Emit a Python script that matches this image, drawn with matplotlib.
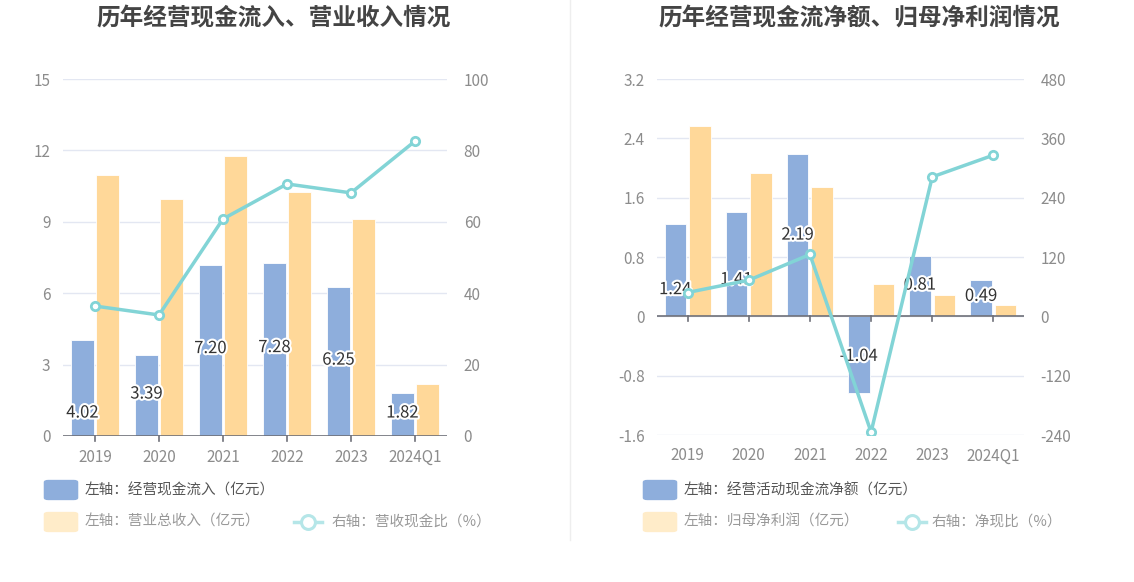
import matplotlib.pyplot as plt
import numpy as np
from matplotlib.patches import FancyBboxPatch
from matplotlib.lines import Line2D
import matplotlib.patheffects as pe

plt.rcParams['font.family'] = ['Noto Sans CJK SC', 'DejaVu Sans']

years = ['2019', '2020', '2021', '2022', '2023', '2024Q1']

# 左图
cash_in = [4.02, 3.39, 7.20, 7.28, 6.25, 1.82]
revenue = [10.97, 9.96, 11.76, 10.25, 9.12, 2.18]
cash_ratio = [36.4, 33.9, 60.8, 70.6, 68.1, 82.6]

# 右图
net_cash = [1.24, 1.41, 2.19, -1.04, 0.81, 0.49]
net_profit = [2.57, 1.93, 1.75, 0.44, 0.29, 0.15]
net_ratio = [48.2, 73.1, 125.1, -234.0, 282.0, 326.0]

# label height as fraction of bar value
label_frac_l = [0.24, 0.52, 0.51, 0.51, 0.51, 0.53]
label_frac_r = [0.29, 0.35, 0.5, 0.52, 0.52, 0.55]

BLUE = '#8eaedc'
ORANGE = '#ffd899'
TEAL = '#82d4d6'
GRID = '#e3e7f2'
TICK = '#8c8c8c'
AXIS = '#6e7079'

fig = plt.figure(figsize=(11.34, 5.82), dpi=100)


def draw(ax, bars1, bars2, line, ylim, yticks, y2lim, y2ticks, fracs, w, off):
    x = np.arange(len(years))
    ax.bar(x - off, bars1, w, color=BLUE, edgecolor='white', linewidth=0.6, zorder=2)
    ax.bar(x + off, bars2, w, color=ORANGE, edgecolor='white', linewidth=0.6, zorder=2)
    ax.set_xlim(-0.5, len(years) - 0.5)
    ax.set_ylim(*ylim)
    ax.set_yticks(yticks)
    ax.set_yticklabels([('%g' % t) for t in yticks])
    ax.grid(axis='y', color=GRID, linewidth=1, zorder=0)
    ax.axhline(0, color=AXIS, linewidth=1.2, zorder=3)
    for s in ax.spines.values():
        s.set_visible(False)
    ax.set_xticks(x)
    ax.set_xticklabels(years)
    ax.tick_params(axis='x', length=5, color=AXIS, colors=TICK, labelsize=11, pad=4)
    ax.tick_params(axis='y', length=0, colors=TICK, labelsize=11, pad=9)
    # 刻度线放在0处
    for t in ax.xaxis.get_major_ticks():
        t.tick1line.set_visible(False)
    for xi in x:
        ax.plot([xi, xi], [0, -(ylim[1] - ylim[0]) * 0.014], color=AXIS, lw=1.2,
                zorder=3, clip_on=False)
    for xi, v, f in zip(x, bars1, fracs):
        ax.text(xi - off, v * f, '%.2f' % v, ha='center', va='center', fontsize=12,
                color='#333333', zorder=6,
                path_effects=[pe.withStroke(linewidth=3, foreground='white')])
    ax2 = ax.twinx()
    ax2.plot(x, line, color=TEAL, lw=2.5, marker='o', markersize=6,
             markerfacecolor='white', markeredgecolor=TEAL, markeredgewidth=2, zorder=5)
    ax2.set_ylim(*y2lim)
    ax2.set_yticks(y2ticks)
    ax2.set_yticklabels([('%g' % t) for t in y2ticks])
    ax2.tick_params(axis='y', length=0, colors=TICK, labelsize=11, pad=12)
    for s in ax2.spines.values():
        s.set_visible(False)
    ax2.set_zorder(ax.get_zorder() + 1)
    ax2.patch.set_visible(False)
    return ax2


ax1 = fig.add_axes([63 / 1134, 1 - 436 / 582, 384 / 1134, 357 / 582])
draw(ax1, cash_in, revenue, cash_ratio, (0, 15), [0, 3, 6, 9, 12, 15],
     (0, 100), [0, 20, 40, 60, 80, 100], label_frac_l, 0.35, 0.195)

ax3 = fig.add_axes([657 / 1134, 1 - 435 / 582, 367 / 1134, 356 / 582])
draw(ax3, net_cash, net_profit, net_ratio, (-1.6, 3.2), [-1.6, -0.8, 0, 0.8, 1.6, 2.4, 3.2],
     (-240, 480), [-240, -120, 0, 120, 240, 360, 480], label_frac_r, 0.35, 0.2)

fig.text(274 / 1134, 1 - 18 / 582, '历年经营现金流入、营业收入情况', ha='center', va='center',
         fontsize=17, fontweight='bold', color='#444444')
fig.text(859 / 1134, 1 - 18 / 582, '历年经营现金流净额、归母净利润情况', ha='center', va='center',
         fontsize=17, fontweight='bold', color='#444444')

# 分隔线
fig.add_artist(Line2D([570 / 1134, 570 / 1134], [1 - 540 / 582, 1.0], color='#eeeeee', lw=1))


def legend_box(x, y, color):
    fig.add_artist(FancyBboxPatch((x / 1134, 1 - (y + 9) / 582), 30 / 1134, 18 / 582,
                                  boxstyle='round,pad=0.002,rounding_size=0.004',
                                  facecolor=color, edgecolor='none',
                                  transform=fig.transFigure))


def legend_line(x, y):
    yy = 1 - y / 582
    fig.add_artist(Line2D([x / 1134, (x + 28) / 1134], [yy, yy], color='#b5e6e8', lw=2.5))
    fig.add_artist(Line2D([(x + 14) / 1134], [yy], marker='o', markersize=10,
                          markerfacecolor='white', markeredgecolor='#b5e6e8',
                          markeredgewidth=2.2))


def legend_text(x, y, s, color):
    fig.text(x / 1134, 1 - y / 582, s, ha='left', va='center', fontsize=10.5, color=color)


legend_box(46, 490, BLUE)
legend_text(85, 490, '左轴：经营现金流入（亿元）', '#555555')
legend_box(46, 522, '#ffecc9')
legend_text(85, 522, '左轴：营业总收入（亿元）', '#999999')
legend_line(294, 522)
legend_text(332, 522, '右轴：营收现金比（%）', '#999999')

legend_box(645, 490, BLUE)
legend_text(684, 490, '左轴：经营活动现金流净额（亿元）', '#555555')
legend_box(645, 522, '#ffecc9')
legend_text(684, 522, '左轴：归母净利润（亿元）', '#999999')
legend_line(898, 522)
legend_text(932, 522, '右轴：净现比（%）', '#999999')

fig.savefig('out.png', dpi=100)
